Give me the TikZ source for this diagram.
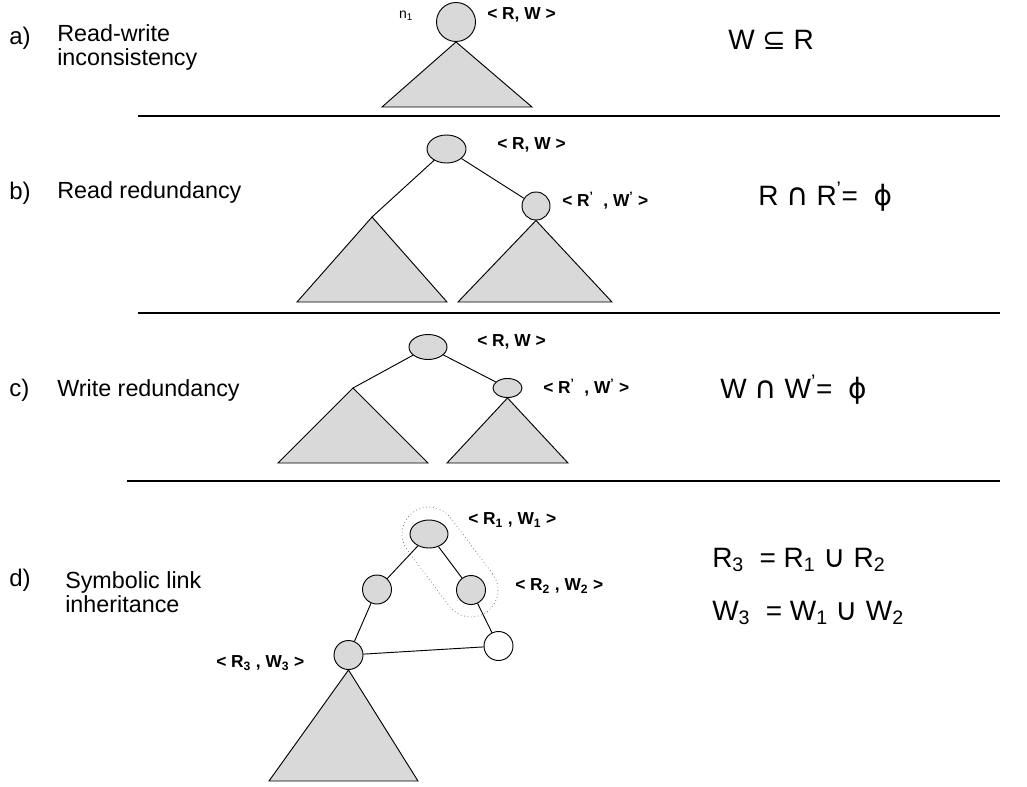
\documentclass[tikz,border=0pt]{standalone}
\usepackage{fontspec}
\setmainfont{Liberation Sans}
\newfontfamily\symf{DejaVu Sans}
\usetikzlibrary{shapes.geometric}
\begin{document}
\begin{tikzpicture}[x=0.75pt,y=-0.75pt,
 nd/.style={ellipse,draw,fill=gray!30,inner sep=0pt,line width=0.7pt},
 wnd/.style={ellipse,draw,fill=white,inner sep=0pt,line width=0.7pt},
 tri/.style={draw,fill=gray!30,line width=0.7pt},
 edge/.style={line width=0.7pt},
 rule/.style={line width=0.8pt},
 lbl/.style={font=\fontsize{17.5}{18}\selectfont, anchor=west, align=left, inner sep=0pt},
 tag/.style={font=\fontsize{18}{20}\selectfont, anchor=west, inner sep=0pt},
 key/.style={font=\bfseries\fontsize{13}{15}\selectfont, anchor=west, inner sep=0pt},
 eq/.style={font=\fontsize{21}{25}\selectfont, anchor=west, inner sep=0pt},
 grp/.style={draw=gray,dotted,line width=0.6pt,rectangle,inner sep=0pt}]
\useasboundingbox (0,0) rectangle (1027,786);
% ---------- panel a
\node[tag] (ta) at (9,38) {a)};
\node[lbl] (la) at (57,47) {Read-write\\inconsistency};
\node[nd,minimum width=29.25pt,minimum height=29.25pt] (a1) at (456,22) {};
\node[font=\fontsize{10.5}{12}\selectfont,inner sep=0pt] (n1) at (406,16) {n\textsubscript{1}};
\node[key] (ka) at (487,15) {< R, W >};
\draw[tri] (a1.south) -- (382,107) -- (532,107) -- cycle;
\node[eq] (ea) at (728,40) {W {\symf ⊆} R};
\draw[rule] (138,116) coordinate (r1a) -- (1000,116) coordinate (r1b);
% ---------- panel b
\node[tag] (tb) at (9,193) {b)};
\node[lbl] (lb) at (57,192) {Read redundancy};
\node[nd,minimum width=29.25pt,minimum height=21pt] (b1) at (446.5,149) {};
\node[nd,minimum width=21pt,minimum height=21pt] (b2) at (536,206) {};
\coordinate (bL) at (372,217);
\draw[edge] (b1) -- (bL);
\draw[edge] (b1) -- (b2);
\draw[tri] (bL) -- (297,302) -- (447,302) -- cycle;
\draw[tri] (b2.south) -- (458,302) -- (612,302) -- cycle;
\node[key] (kb1) at (497,145) {< R, W >};
\node[key] (kb2) at (562,201) {< R\textsuperscript{’}\ \ , W\textsuperscript{’} >};
\node[eq] (eb) at (758,197) {R {\symf\fontsize{23}{25}\selectfont ∩} R\textsuperscript{’}=\ \ {\symf ϕ}};
\draw[rule] (138,313) coordinate (r2a) -- (1000,313) coordinate (r2b);
% ---------- panel c
\node[tag] (tc) at (9,390) {c)};
\node[lbl] (lc) at (57,390) {Write redundancy};
\node[nd,minimum width=28.5pt,minimum height=18.75pt] (c1) at (428,347) {};
\node[nd,minimum width=21.75pt,minimum height=14.25pt] (c2) at (507.5,388) {};
\coordinate (cL) at (353,388);
\draw[edge] (c1) -- (cL);
\draw[edge] (c1) -- (c2);
\draw[tri] (cL) -- (278,463) -- (428,463) -- cycle;
\draw[tri] (c2.south) -- (447,463) -- (568,463) -- cycle;
\node[key] (kc1) at (477,342) {< R, W >};
\node[key] (kc2) at (543,388) {< R\textsuperscript{’}\ \ , W\textsuperscript{’} >};
\node[eq] (ec) at (720,390) {W {\symf\fontsize{23}{25}\selectfont ∩} W\textsuperscript{’}=\ \ {\symf ϕ}};
\draw[rule] (127,481) coordinate (r3a) -- (1000,481) coordinate (r3b);
% ---------- panel d
\node[tag] (td) at (9,580) {d)};
\node[lbl] (ld) at (65,592) {Symbolic link\\inheritance};
\node[grp,minimum width=93pt,minimum height=40.5pt,rounded corners=20.25pt,rotate=-53.13] (g) at (450,562) {};
\node[nd,minimum width=28.5pt,minimum height=21pt] (d1) at (429,534) {};
\node[nd,minimum width=21.75pt,minimum height=21.75pt] (d2) at (377,589.5) {};
\node[nd,minimum width=21.75pt,minimum height=21.75pt] (d3) at (471,590) {};
\node[nd,minimum width=21.75pt,minimum height=21.75pt] (d4) at (348.5,655) {};
\node[wnd,minimum width=21.75pt,minimum height=21.75pt] (d5) at (498.5,646) {};
\draw[edge] (d1) -- (d2);
\draw[edge] (d1) -- (d3);
\draw[edge] (d2) -- (d4);
\draw[edge] (d3) -- (d5);
\draw[edge] (d4) -- (d5);
\draw[tri] (d4.south) -- (269,781) -- (418,781) -- cycle;
\node[key] (kd1) at (468,520) {< R\textsubscript{1} , W\textsubscript{1} >};
\node[key] (kd2) at (515,586) {< R\textsubscript{2} , W\textsubscript{2} >};
\node[key] (kd3) at (216,663) {< R\textsubscript{3} , W\textsubscript{3} >};
\node[eq] (ed1) at (712,560) {R\textsubscript{3}\ \ = R\textsubscript{1} {\symf\fontsize{23}{25}\selectfont ∪} R\textsubscript{2}};
\node[eq] (ed2) at (712,613) {W\textsubscript{3}\ \ = W\textsubscript{1} {\symf\fontsize{23}{25}\selectfont ∪} W\textsubscript{2}};
\end{tikzpicture}
\end{document}
